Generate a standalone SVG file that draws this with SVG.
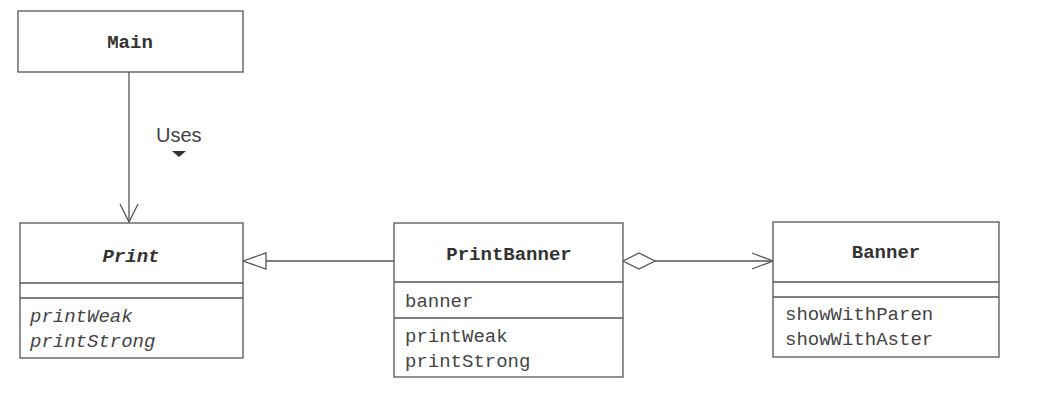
<svg xmlns="http://www.w3.org/2000/svg" width="1064" height="412" viewBox="0 0 1064 412">
<style>
.box{fill:#fff;stroke:#555;stroke-width:1.3}
.ln{stroke:#555;stroke-width:1.3;fill:none}
.t{font-family:"Liberation Mono","Courier New",monospace;font-size:19px;fill:#444}
.b{font-weight:bold;fill:#333}
.c{text-anchor:middle}
.i{font-style:italic}
.lbl{font-family:"Liberation Sans",Arial,sans-serif;font-size:20px;fill:#444}
</style>
<rect width="1064" height="412" fill="#fff"/>
<g id="connectors">
<line class="ln" x1="129" y1="72" x2="129" y2="222"/>
<polyline class="ln" points="120,204 129,222 138,204"/>
<line class="ln" x1="266" y1="261" x2="394" y2="261"/>
<polygon class="ln" fill="#fff" points="243,261 266,253 266,269"/>
<polygon class="ln" fill="#fff" points="623,261 639,253 655,261 639,269"/>
<line class="ln" x1="655" y1="261" x2="773" y2="261"/>
<polyline class="ln" points="752,253 773,261 752,269"/>
<text class="lbl" x="156" y="142">Uses</text>
<polygon fill="#333" points="172,151 186,151 179,157"/>
</g>
<g id="Main">
<rect class="box" x="18" y="11" width="225" height="61"/>
<text class="t b c" x="130" y="48">Main</text>
</g>
<g id="Print">
<rect class="box" x="20" y="223" width="223" height="135"/>
<line class="ln" x1="20" y1="283" x2="243" y2="283"/>
<line class="ln" x1="20" y1="298" x2="243" y2="298"/>
<text class="t b c i" x="131" y="262">Print</text>
<text class="t i" x="30" y="322">printWeak</text>
<text class="t i" x="30" y="347">printStrong</text>
</g>
<g id="PrintBanner">
<rect class="box" x="394" y="223" width="229" height="154"/>
<line class="ln" x1="394" y1="282" x2="623" y2="282"/>
<line class="ln" x1="394" y1="318" x2="623" y2="318"/>
<text class="t b c" x="509" y="260">PrintBanner</text>
<text class="t" x="405" y="307">banner</text>
<text class="t" x="405" y="342">printWeak</text>
<text class="t" x="405" y="367">printStrong</text>
</g>
<g id="Banner">
<rect class="box" x="773" y="222" width="226" height="135"/>
<line class="ln" x1="773" y1="282" x2="999" y2="282"/>
<line class="ln" x1="773" y1="297" x2="999" y2="297"/>
<text class="t b c" x="886" y="258">Banner</text>
<text class="t" x="785" y="320">showWithParen</text>
<text class="t" x="785" y="345">showWithAster</text>
</g>
</svg>
